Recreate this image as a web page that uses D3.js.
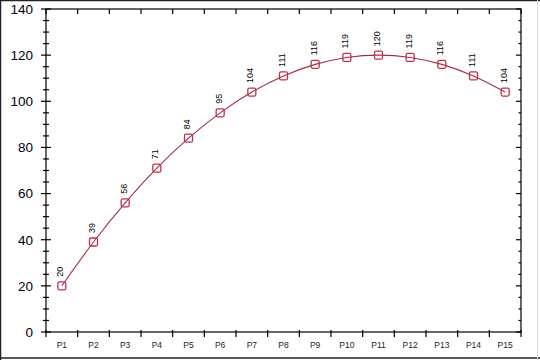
<!DOCTYPE html>
<html><head><meta charset="utf-8">
<script src="https://cdn.jsdelivr.net/npm/d3@7"></script>
<style>body{margin:0;background:#fff}svg{display:block}</style>
</head><body>
<script>
const categories = ["P1","P2","P3","P4","P5","P6","P7","P8","P9","P10","P11","P12","P13","P14","P15"];
const values = [20,39,56,71,84,95,104,111,116,119,120,119,116,111,104];
const yMajorTicks = [0,20,40,60,80,100,120,140];

const W = 540, H = 360;
const m = {left:46, right:19, top:9, bottom:28};
const svg = d3.select("body").append("svg").attr("width",W).attr("height",H);

// frame
svg.append("line").attr("x1",0.5).attr("x2",0.5).attr("y1",0).attr("y2",H).attr("stroke","#222").attr("stroke-width",1.5);
svg.append("line").attr("x1",0).attr("x2",W).attr("y1",0.5).attr("y2",0.5).attr("stroke","#222").attr("stroke-width",1.5);
svg.append("line").attr("x1",0).attr("x2",W).attr("y1",H-2).attr("y2",H-2).attr("stroke","#222").attr("stroke-width",1.5);
svg.append("line").attr("x1",W-2.5).attr("x2",W-2.5).attr("y1",0).attr("y2",H).attr("stroke","#ddd").attr("stroke-width",1);

const x = d3.scaleBand().domain(categories).range([m.left, W-m.right]).padding(0);
const y = d3.scaleLinear().domain([0,140]).range([H-m.bottom, m.top]);
const x0 = m.left, x1 = W-m.right, y0 = H-m.bottom, y1 = m.top;

const g = svg.append("g");
g.append("rect").attr("x",x0).attr("y",y1).attr("width",x1-x0).attr("height",y0-y1)
  .attr("fill","none").attr("stroke","#000").attr("stroke-width",1.2);

const minorTicks = d3.range(0,141,5);
g.selectAll(".lt").data(minorTicks).join("line")
  .attr("x1",d=>yMajorTicks.includes(d)?x0-5:x0-3)
  .attr("x2",d=>yMajorTicks.includes(d)?x0+5:x0+3)
  .attr("y1",d=>y(d)).attr("y2",d=>y(d)).attr("stroke","#000").attr("stroke-width",1.2);
g.selectAll(".rt").data(minorTicks).join("line")
  .attr("x1",d=>yMajorTicks.includes(d)?x1-5:x1-2.5).attr("x2",x1)
  .attr("y1",d=>y(d)).attr("y2",d=>y(d)).attr("stroke","#000").attr("stroke-width",1.2);
g.selectAll(".yl").data(yMajorTicks).join("text")
  .attr("x",x0-13).attr("y",d=>y(d)).attr("dy","0.36em").attr("text-anchor","end")
  .attr("font-family","Liberation Sans, Arial, sans-serif").attr("font-size",13.5).attr("fill","#000")
  .text(d=>d);

const bounds = categories.map(c=>x(c)).concat([x1]);
g.selectAll(".bt").data(bounds).join("line")
  .attr("x1",d=>d).attr("x2",d=>d).attr("y1",y0-2).attr("y2",y0+5).attr("stroke","#000").attr("stroke-width",1.2);
g.selectAll(".tt").data(bounds).join("line")
  .attr("x1",d=>d).attr("x2",d=>d).attr("y1",y1).attr("y2",y1+5).attr("stroke","#000").attr("stroke-width",1.2);
g.selectAll(".xl").data(categories).join("text")
  .attr("x",d=>x(d)+x.bandwidth()/2).attr("y",y0+16).attr("text-anchor","middle")
  .attr("font-family","Liberation Sans, Arial, sans-serif").attr("font-size",8.5).attr("fill","#222")
  .text(d=>d);

const pts = categories.map((c,i)=>({c, v:values[i]}));
const line = d3.line().x(d=>x(d.c)+x.bandwidth()/2).y(d=>y(d.v)).curve(d3.curveMonotoneX);
g.append("path").datum(pts).attr("d",line).attr("fill","none").attr("stroke","#a03048").attr("stroke-width",1.1);

g.selectAll(".mk").data(pts).join("rect")
  .attr("x",d=>x(d.c)+x.bandwidth()/2-4).attr("y",d=>y(d.v)-4)
  .attr("width",8).attr("height",8).attr("rx",1.5)
  .attr("fill","none").attr("stroke","#c0304e").attr("stroke-width",1.3);

g.selectAll(".dl").data(pts).join("text")
  .attr("transform",d=>`translate(${x(d.c)+x.bandwidth()/2+1.5},${y(d.v)-9}) rotate(-90)`)
  .attr("font-family","Liberation Sans, Arial, sans-serif").attr("font-size",9).attr("fill","#000")
  .text(d=>d.v);
</script>
</body></html>
